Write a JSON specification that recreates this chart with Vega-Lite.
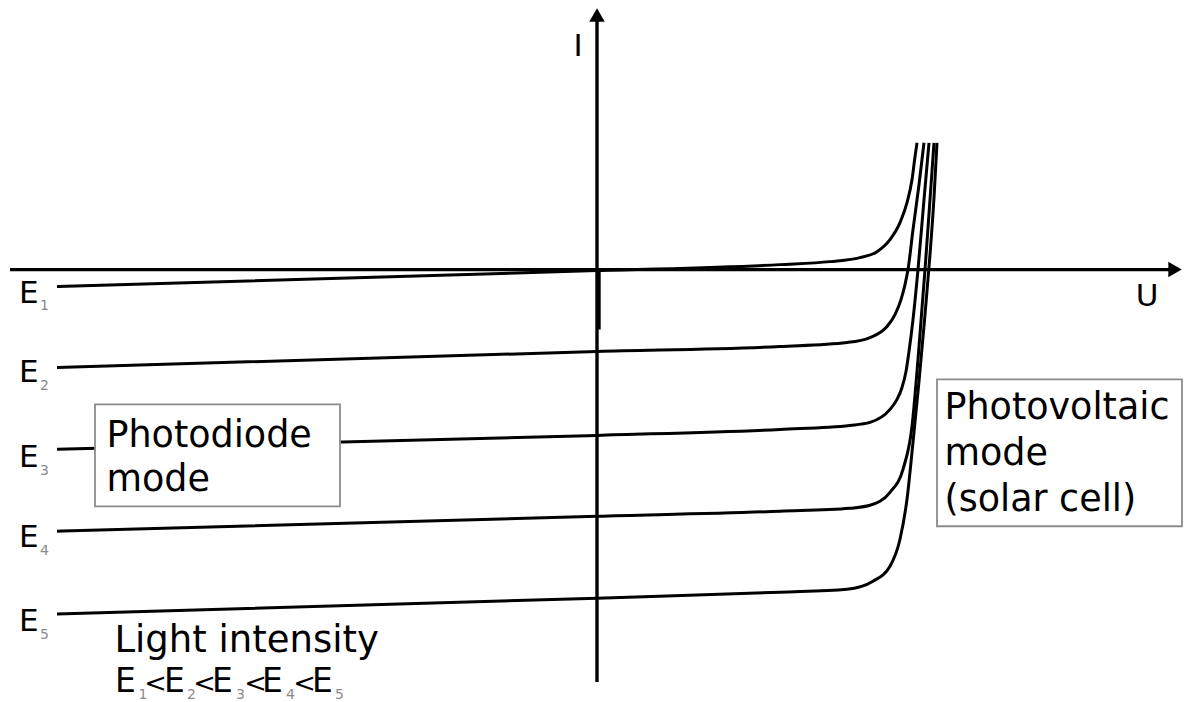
{
  "$schema": "https://vega.github.io/schema/vega-lite/v6.json",
  "width": 1192,
  "height": 702,
  "padding": 0,
  "autosize": {"type": "fit", "contains": "padding"},
  "background": "white",
  "config": {"view": {"stroke": null}},
  "datasets": {
    "curves": [
      {"curve": "E1", "u": -5.40, "i": -0.17}, {"curve": "E1", "u": 0, "i": -0.01}, {"curve": "E1", "u": 1.83, "i": 0.05}, {"curve": "E1", "u": 2.33, "i": 0.08}, {"curve": "E1", "u": 2.63, "i": 0.12}, {"curve": "E1", "u": 2.80, "i": 0.18}, {"curve": "E1", "u": 2.93, "i": 0.30}, {"curve": "E1", "u": 3.03, "i": 0.47}, {"curve": "E1", "u": 3.10, "i": 0.67}, {"curve": "E1", "u": 3.15, "i": 0.90}, {"curve": "E1", "u": 3.18, "i": 1.13}, {"curve": "E1", "u": 3.20, "i": 1.27},
      {"curve": "E2", "u": -5.40, "i": -0.98}, {"curve": "E2", "u": 0, "i": -0.82}, {"curve": "E2", "u": 1.83, "i": -0.77}, {"curve": "E2", "u": 2.50, "i": -0.73}, {"curve": "E2", "u": 2.73, "i": -0.68}, {"curve": "E2", "u": 2.90, "i": -0.57}, {"curve": "E2", "u": 2.98, "i": -0.45}, {"curve": "E2", "u": 3.04, "i": -0.30}, {"curve": "E2", "u": 3.08, "i": -0.15}, {"curve": "E2", "u": 3.11, "i": 0.0}, {"curve": "E2", "u": 3.16, "i": 0.40}, {"curve": "E2", "u": 3.22, "i": 0.85}, {"curve": "E2", "u": 3.27, "i": 1.27},
      {"curve": "E3", "u": -5.40, "i": -1.80}, {"curve": "E3", "u": 0, "i": -1.66}, {"curve": "E3", "u": 1.83, "i": -1.60}, {"curve": "E3", "u": 2.53, "i": -1.56}, {"curve": "E3", "u": 2.73, "i": -1.53}, {"curve": "E3", "u": 2.93, "i": -1.40}, {"curve": "E3", "u": 3.00, "i": -1.30}, {"curve": "E3", "u": 3.05, "i": -1.18}, {"curve": "E3", "u": 3.09, "i": -1.02}, {"curve": "E3", "u": 3.12, "i": -0.82}, {"curve": "E3", "u": 3.16, "i": -0.50}, {"curve": "E3", "u": 3.21, "i": 0.0}, {"curve": "E3", "u": 3.27, "i": 0.70}, {"curve": "E3", "u": 3.32, "i": 1.27},
      {"curve": "E4", "u": -5.40, "i": -2.62}, {"curve": "E4", "u": 0, "i": -2.47}, {"curve": "E4", "u": 1.83, "i": -2.42}, {"curve": "E4", "u": 2.53, "i": -2.39}, {"curve": "E4", "u": 2.73, "i": -2.36}, {"curve": "E4", "u": 2.93, "i": -2.23}, {"curve": "E4", "u": 3.06, "i": -2.00}, {"curve": "E4", "u": 3.15, "i": -1.57}, {"curve": "E4", "u": 3.21, "i": -0.90}, {"curve": "E4", "u": 3.28, "i": 0.0}, {"curve": "E4", "u": 3.33, "i": 0.70}, {"curve": "E4", "u": 3.37, "i": 1.27},
      {"curve": "E5", "u": -5.40, "i": -3.45}, {"curve": "E5", "u": 0, "i": -3.29}, {"curve": "E5", "u": 1.83, "i": -3.23}, {"curve": "E5", "u": 2.50, "i": -3.20}, {"curve": "E5", "u": 2.76, "i": -3.12}, {"curve": "E5", "u": 2.93, "i": -2.97}, {"curve": "E5", "u": 3.03, "i": -2.70}, {"curve": "E5", "u": 3.10, "i": -2.30}, {"curve": "E5", "u": 3.16, "i": -1.73}, {"curve": "E5", "u": 3.22, "i": -1.12}, {"curve": "E5", "u": 3.28, "i": -0.45}, {"curve": "E5", "u": 3.33, "i": 0.15}, {"curve": "E5", "u": 3.37, "i": 0.72}, {"curve": "E5", "u": 3.40, "i": 1.27}
    ],
    "axes": [
      {"name": "U axis", "u": -5.87, "i": 0, "u2": 5.72, "i2": 0},
      {"name": "I axis", "u": 0, "i": -4.13, "u2": 0, "i2": 2.50},
      {"name": "tick", "u": 0.02, "i": -0.02, "u2": 0.02, "i2": -0.60}
    ],
    "arrows": [
      {"dir": "right", "u": 5.78, "i": 0},
      {"dir": "up", "u": 0, "i": 2.55}
    ],
    "boxes": [
      {"name": "photodiode", "u": -5.02, "i": -1.35, "u2": -2.57, "i2": -2.37},
      {"name": "photovoltaic", "u": 3.40, "i": -1.10, "u2": 5.85, "i2": -2.57}
    ],
    "labels": [
      {"kind": "axis", "t": "I", "u": -0.19, "i": 2.14},
      {"kind": "axis", "t": "U", "u": 5.50, "i": -0.36},
      {"kind": "box", "t": "Photodiode", "u": -4.906, "i": -1.78},
      {"kind": "box", "t": "mode", "u": -4.906, "i": -2.22},
      {"kind": "box", "t": "Photovoltaic", "u": 3.474, "i": -1.50},
      {"kind": "box", "t": "mode", "u": 3.474, "i": -1.96},
      {"kind": "box", "t": "(solar cell)", "u": 3.474, "i": -2.42},
      {"kind": "light", "t": "Light intensity", "u": -4.826, "i": -3.83},
      {"kind": "E", "t": "E", "u": -5.78, "i": -0.33},
      {"kind": "E", "t": "E", "u": -5.78, "i": -1.13},
      {"kind": "E", "t": "E", "u": -5.78, "i": -1.98},
      {"kind": "E", "t": "E", "u": -5.78, "i": -2.78},
      {"kind": "E", "t": "E", "u": -5.78, "i": -3.62},
      {"kind": "sub", "t": "1", "u": -5.57, "i": -0.40},
      {"kind": "sub", "t": "2", "u": -5.57, "i": -1.21},
      {"kind": "sub", "t": "3", "u": -5.57, "i": -2.06},
      {"kind": "sub", "t": "4", "u": -5.57, "i": -2.86},
      {"kind": "sub", "t": "5", "u": -5.57, "i": -3.70},
      {"kind": "row", "t": "E", "u": -4.82, "i": -4.23},
      {"kind": "row", "t": "E", "u": -4.33, "i": -4.23},
      {"kind": "row", "t": "E", "u": -3.85, "i": -4.23},
      {"kind": "row", "t": "E", "u": -3.35, "i": -4.23},
      {"kind": "row", "t": "E", "u": -2.85, "i": -4.23},
      {"kind": "lt", "t": "<", "u": -4.415, "i": -4.23},
      {"kind": "lt", "t": "<", "u": -3.925, "i": -4.23},
      {"kind": "lt", "t": "<", "u": -3.415, "i": -4.23},
      {"kind": "lt", "t": "<", "u": -2.925, "i": -4.23},
      {"kind": "sub", "t": "1", "u": -4.585, "i": -4.30},
      {"kind": "sub", "t": "2", "u": -4.10, "i": -4.30},
      {"kind": "sub", "t": "3", "u": -3.61, "i": -4.30},
      {"kind": "sub", "t": "4", "u": -3.11, "i": -4.30},
      {"kind": "sub", "t": "5", "u": -2.62, "i": -4.30}
    ]
  },
  "layer": [
    {
      "data": {"name": "curves"},
      "mark": {"type": "line", "interpolate": "monotone", "color": "black", "strokeWidth": 3},
      "encoding": {
        "x": {"field": "u", "type": "quantitative", "scale": {"domain": [-5.97, 5.95], "nice": false, "zero": false}, "axis": null},
        "y": {"field": "i", "type": "quantitative", "scale": {"domain": [-4.32, 2.70], "nice": false, "zero": false}, "axis": null},
        "detail": {"field": "curve"}
      }
    },
    {
      "data": {"name": "axes"},
      "mark": {"type": "rule", "color": "black", "strokeWidth": 3.4},
      "encoding": {
        "x": {"field": "u", "type": "quantitative"},
        "y": {"field": "i", "type": "quantitative"},
        "x2": {"field": "u2"},
        "y2": {"field": "i2"}
      }
    },
    {
      "data": {"name": "arrows"},
      "mark": {"type": "point", "filled": true, "color": "black", "opacity": 1, "size": 240},
      "encoding": {
        "x": {"field": "u", "type": "quantitative"},
        "y": {"field": "i", "type": "quantitative"},
        "shape": {"field": "dir", "type": "nominal", "scale": {"domain": ["right", "up"], "range": ["triangle-right", "triangle-up"]}, "legend": null}
      }
    },
    {
      "data": {"name": "boxes"},
      "mark": {"type": "rect", "fill": "white", "stroke": "#8c8c8c", "strokeWidth": 1.8},
      "encoding": {
        "x": {"field": "u", "type": "quantitative"},
        "y": {"field": "i", "type": "quantitative"},
        "x2": {"field": "u2"},
        "y2": {"field": "i2"}
      }
    },
    {
      "data": {"name": "labels"},
      "transform": [{"filter": "datum.kind === 'axis'"}],
      "mark": {"type": "text", "font": "DejaVu Sans", "fontSize": 31, "align": "center", "baseline": "alphabetic", "color": "black"},
      "encoding": {
        "x": {"field": "u", "type": "quantitative"},
        "y": {"field": "i", "type": "quantitative"},
        "text": {"field": "t"}
      }
    },
    {
      "data": {"name": "labels"},
      "transform": [{"filter": "datum.kind === 'box'"}],
      "mark": {"type": "text", "font": "DejaVu Sans", "fontSize": 36.5, "align": "left", "baseline": "alphabetic", "color": "black"},
      "encoding": {
        "x": {"field": "u", "type": "quantitative"},
        "y": {"field": "i", "type": "quantitative"},
        "text": {"field": "t"}
      }
    },
    {
      "data": {"name": "labels"},
      "transform": [{"filter": "datum.kind === 'light'"}],
      "mark": {"type": "text", "font": "DejaVu Sans", "fontSize": 37, "align": "left", "baseline": "alphabetic", "color": "black"},
      "encoding": {
        "x": {"field": "u", "type": "quantitative"},
        "y": {"field": "i", "type": "quantitative"},
        "text": {"field": "t"}
      }
    },
    {
      "data": {"name": "labels"},
      "transform": [{"filter": "datum.kind === 'E'"}],
      "mark": {"type": "text", "font": "DejaVu Sans", "fontSize": 31, "align": "left", "baseline": "alphabetic", "color": "black"},
      "encoding": {
        "x": {"field": "u", "type": "quantitative"},
        "y": {"field": "i", "type": "quantitative"},
        "text": {"field": "t"}
      }
    },
    {
      "data": {"name": "labels"},
      "transform": [{"filter": "datum.kind === 'row'"}],
      "mark": {"type": "text", "font": "DejaVu Sans", "fontSize": 33, "align": "left", "baseline": "alphabetic", "color": "black"},
      "encoding": {
        "x": {"field": "u", "type": "quantitative"},
        "y": {"field": "i", "type": "quantitative"},
        "text": {"field": "t"}
      }
    },
    {
      "data": {"name": "labels"},
      "transform": [{"filter": "datum.kind === 'lt'"}],
      "mark": {"type": "text", "font": "DejaVu Sans", "fontSize": 27, "align": "center", "baseline": "alphabetic", "color": "black"},
      "encoding": {
        "x": {"field": "u", "type": "quantitative"},
        "y": {"field": "i", "type": "quantitative"},
        "text": {"field": "t"}
      }
    },
    {
      "data": {"name": "labels"},
      "transform": [{"filter": "datum.kind === 'sub'"}],
      "mark": {"type": "text", "font": "DejaVu Sans", "fontSize": 14, "align": "left", "baseline": "alphabetic", "color": "#8a8a8a"},
      "encoding": {
        "x": {"field": "u", "type": "quantitative"},
        "y": {"field": "i", "type": "quantitative"},
        "text": {"field": "t"}
      }
    }
  ]
}
